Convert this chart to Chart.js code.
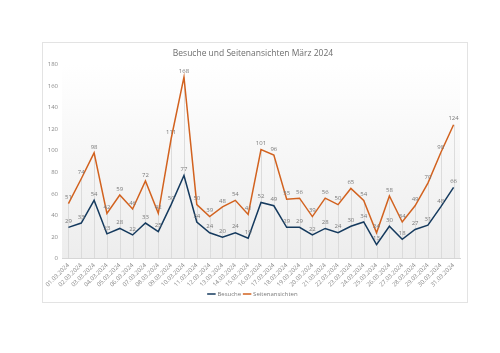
<!DOCTYPE html>
<html>
<head>
<meta charset="utf-8">
<script src="https://cdn.jsdelivr.net/npm/chart.js@4"></script>
<style>
  html, body { margin: 0; padding: 0; background: #ffffff; }
  body { width: 500px; height: 353px; position: relative; overflow: hidden; }
  #box { position: absolute; left: 42px; top: 42px; width: 424px; height: 259px; border: 1px solid #e3e3e3; background: #fff; }
  #c { display: block; }
</style>
</head>
<body>
<div id="box"><canvas id="c" width="424" height="259"></canvas></div>
<script>
const categories = ["01.03.2024","02.03.2024","03.03.2024","04.03.2024","05.03.2024","06.03.2024","07.03.2024","08.03.2024","09.03.2024","10.03.2024","11.03.2024","12.03.2024","13.03.2024","14.03.2024","15.03.2024","16.03.2024","17.03.2024","18.03.2024","19.03.2024","20.03.2024","21.03.2024","22.03.2024","23.03.2024","24.03.2024","25.03.2024","26.03.2024","27.03.2024","28.03.2024","29.03.2024","30.03.2024","31.03.2024"];
const besuche = [29,33,54,23,28,22,33,25,50,77,34,24,20,24,19,52,49,29,29,22,28,24,30,34,13,30,18,27,31,48,66];
const seitenansichten = [51,74,98,42,59,46,72,42,111,168,50,39,48,54,41,101,96,55,56,39,56,50,65,54,24,58,34,49,70,98,124];
const yTicks = [0,20,40,60,80,100,120,140,160,180];
const titleText = "Besuche und Seitenansichten März 2024";
const seriesNames = ["Besuche", "Seitenansichten"];

const FONT = "'Open Sans', 'Liberation Sans', sans-serif";

const bgPlugin = {
  id: 'bg',
  beforeDraw(chart) {
    const {ctx, chartArea: a} = chart;
    const g = ctx.createLinearGradient(0, a.top, 0, a.bottom);
    g.addColorStop(0, '#ffffff');
    g.addColorStop(1, '#ededed');
    ctx.save();
    ctx.fillStyle = g;
    ctx.fillRect(a.left, a.top, a.right - a.left, a.bottom - a.top);
    ctx.restore();
  }
};

const dropLines = {
  id: 'drop',
  beforeDatasetsDraw(chart) {
    const {ctx} = chart;
    const xs = chart.scales.x, ys = chart.scales.y;
    ctx.save();
    ctx.strokeStyle = '#d6d6d6';
    ctx.lineWidth = 0.8;
    categories.forEach((c, i) => {
      const m = Math.max(besuche[i], seitenansichten[i]);
      const x = Math.round(xs.getPixelForValue(i)) + 0.5;
      ctx.beginPath();
      ctx.moveTo(x, ys.getPixelForValue(m));
      ctx.lineTo(x, ys.getPixelForValue(0));
      ctx.stroke();
    });
    ctx.restore();
  }
};

const labelsPlugin = {
  id: 'vals',
  afterDatasetsDraw(chart) {
    const {ctx} = chart;
    ctx.save();
    ctx.font = "6px " + FONT;
    ctx.fillStyle = '#7a7a7a';
    ctx.textAlign = 'center';
    ctx.textBaseline = 'bottom';
    chart.data.datasets.forEach((ds, di) => {
      const meta = chart.getDatasetMeta(di);
      meta.data.forEach((pt, i) => {
        ctx.fillText(String(ds.data[i]), pt.x, pt.y - 3);
      });
    });
    ctx.restore();
  }
};

new Chart(document.getElementById('c'), {
  type: 'line',
  data: {
    labels: categories,
    datasets: [
      { label: seriesNames[0], data: besuche, borderColor: '#153a5e', backgroundColor: '#153a5e', borderWidth: 1.5, pointRadius: 0, tension: 0 },
      { label: seriesNames[1], data: seitenansichten, borderColor: '#d2621f', backgroundColor: '#d2621f', borderWidth: 1.5, pointRadius: 0, tension: 0 }
    ]
  },
  options: {
    responsive: false,
    animation: false,
    events: [],
    layout: { padding: { left: 3, right: 7, top: 0, bottom: 0 } },
    plugins: {
      title: {
        display: true, text: titleText, color: '#6e6e6e',
        font: { family: FONT, size: 8.5, weight: 'normal' }, padding: { top: 5, bottom: 6 }
      },
      legend: {
        position: 'bottom',
        maxHeight: 14,
        labels: {
          color: '#7a7a7a', font: { family: FONT, size: 6 },
          usePointStyle: true, pointStyle: 'line', boxWidth: 12, padding: 3
        }
      },
      tooltip: { enabled: false }
    },
    scales: {
      x: {
        offset: true,
        grid: { display: false, drawTicks: false },
        border: { color: '#d6d6d6' },
        ticks: { color: '#8a8a8a', font: { family: FONT, size: 6 }, maxRotation: 45, minRotation: 45, autoSkip: false, padding: 3 },
        afterFit: s => { s.height = 29.3; s.paddingLeft = 0; s.paddingRight = 0; }
      },
      y: {
        min: 0, max: 180,
        afterBuildTicks: s => { s.ticks = yTicks.map(v => ({ value: v })); },
        grid: { display: false, drawTicks: false },
        border: { display: false },
        ticks: { color: '#8a8a8a', font: { family: FONT, size: 6 }, padding: 4 },
        afterFit: s => { s.width = 16; }
      }
    }
  },
  plugins: [bgPlugin, dropLines, labelsPlugin]
});
</script>
</body>
</html>
